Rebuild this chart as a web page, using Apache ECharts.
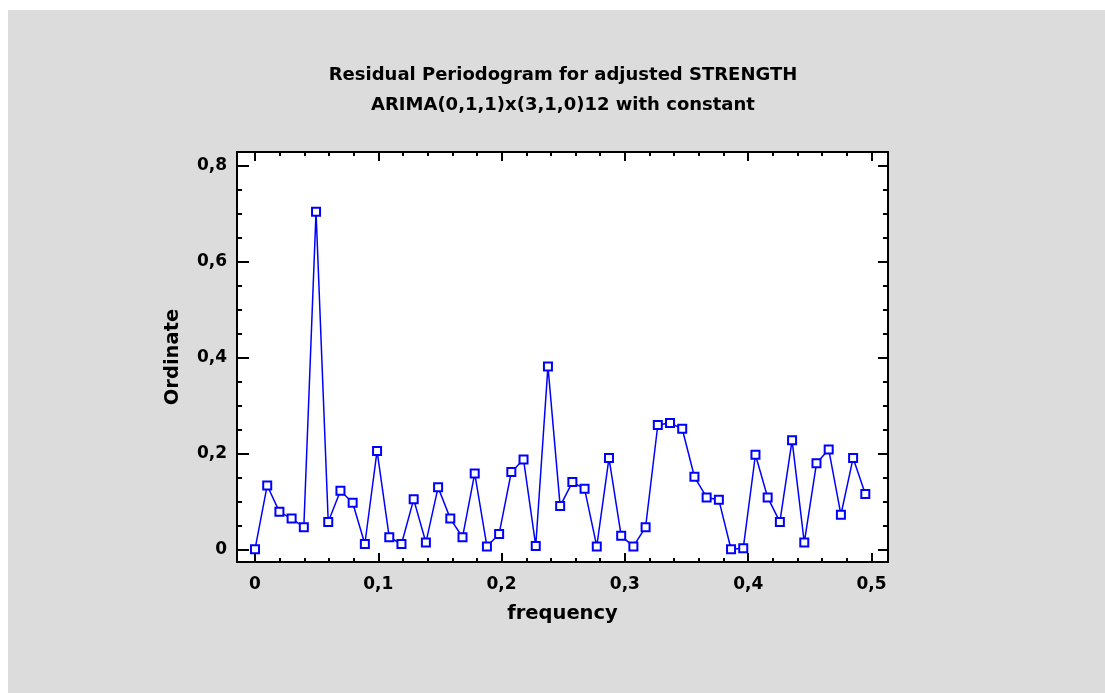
<!DOCTYPE html>
<html>
<head>
<meta charset="utf-8">
<script src="https://cdn.jsdelivr.net/npm/echarts@6/dist/echarts.min.js"></script>
<style>
  html, body { margin: 0; padding: 0; background: #ffffff; }
  #bg { position: absolute; left: 8px; top: 10px; width: 1097px; height: 683px; background: #dcdcdc; }
  #chart { position: absolute; left: 0; top: 0; width: 1105px; height: 693px; }
</style>
</head>
<body>
<div id="bg"></div>
<div id="chart"></div>
<script>
// ---- data ----
const frequency = [
  0.0000, 0.0099, 0.0198, 0.0297, 0.0396, 0.0495, 0.0594, 0.0693, 0.0792, 0.0891,
  0.0990, 0.1089, 0.1188, 0.1287, 0.1386, 0.1485, 0.1584, 0.1683, 0.1782, 0.1881,
  0.1980, 0.2079, 0.2178, 0.2277, 0.2376, 0.2475, 0.2574, 0.2673, 0.2772, 0.2871,
  0.2970, 0.3069, 0.3168, 0.3267, 0.3366, 0.3465, 0.3564, 0.3663, 0.3762, 0.3861,
  0.3960, 0.4059, 0.4158, 0.4257, 0.4356, 0.4455, 0.4554, 0.4653, 0.4752, 0.4851,
  0.4950
];
const ordinate = [
  0.000, 0.133, 0.078, 0.064, 0.046, 0.703, 0.057, 0.122, 0.097, 0.011,
  0.205, 0.025, 0.011, 0.104, 0.014, 0.129, 0.064, 0.025, 0.158, 0.006,
  0.032, 0.161, 0.187, 0.007, 0.381, 0.090, 0.140, 0.126, 0.006, 0.190,
  0.028, 0.006, 0.046, 0.259, 0.263, 0.251, 0.151, 0.108, 0.103, 0.000,
  0.002, 0.197, 0.108, 0.057, 0.227, 0.014, 0.179, 0.208, 0.072, 0.190,
  0.115
];
const xMajorTicks = [0, 0.1, 0.2, 0.3, 0.4, 0.5];
const xMinorTicks = [0.02, 0.04, 0.06, 0.08, 0.12, 0.14, 0.16, 0.18, 0.22, 0.24, 0.26, 0.28,
                     0.32, 0.34, 0.36, 0.38, 0.42, 0.44, 0.46, 0.48];
const yMajorTicks = [0, 0.2, 0.4, 0.6, 0.8];
const yMinorTicks = [0.05, 0.1, 0.15, 0.25, 0.3, 0.35, 0.45, 0.5, 0.55, 0.65, 0.7, 0.75];
const titleLines = ['Residual Periodogram for adjusted STRENGTH', 'ARIMA(0,1,1)x(3,1,0)12 with constant'];
const xName = 'frequency';
const yName = 'Ordinate';

// ---- chart ----
const FONT = 'DejaVu Sans';
const X_MIN = -0.0146, X_MAX = 0.5134;
const Y_MIN = -0.0265, Y_MAX = 0.8277;
const fmt = v => String(Math.round(v * 10) / 10).replace('.', ',');
const tickLine = { color: '#000', width: 2 };

function xAxisDef(pos, ticks, len, withLabels) {
  return {
    type: 'value', position: pos, min: X_MIN, max: X_MAX, gridIndex: 0,
    axisLine: { show: false, onZero: false },
    splitLine: { show: false },
    axisTick: { show: true, inside: true, length: len, lineStyle: tickLine, customValues: ticks },
    axisLabel: withLabels ? {
      show: true, customValues: ticks, formatter: fmt, margin: 14,
      color: '#000', fontFamily: FONT, fontWeight: 'bold', fontSize: 17
    } : { show: false },
    name: withLabels ? xName : '',
    nameLocation: 'middle', nameGap: 42,
    nameTextStyle: { color: '#000', fontFamily: FONT, fontWeight: 'bold', fontSize: 19.5 }
  };
}
function yAxisDef(pos, ticks, len, withLabels) {
  return {
    type: 'value', position: pos, min: Y_MIN, max: Y_MAX, gridIndex: 0,
    axisLine: { show: false, onZero: false },
    splitLine: { show: false },
    axisTick: { show: true, inside: true, length: len, lineStyle: tickLine, customValues: ticks },
    axisLabel: withLabels ? {
      show: true, customValues: ticks, formatter: fmt, margin: 10,
      color: '#000', fontFamily: FONT, fontWeight: 'bold', fontSize: 17,
      padding: [4, 0, 0, 0]
    } : { show: false },
    name: withLabels ? yName : '',
    nameLocation: 'middle', nameGap: 54,
    nameTextStyle: { color: '#000', fontFamily: FONT, fontWeight: 'bold', fontSize: 19.5 }
  };
}

const chart = echarts.init(document.getElementById('chart'), null, { renderer: 'canvas' });
chart.setOption({
  backgroundColor: 'transparent',
  animation: false,
  title: {
    text: titleLines.join('\n'),
    left: 563, top: 60, padding: 0, textAlign: 'center',
    textStyle: { color: '#000', fontFamily: FONT, fontWeight: 'bold', fontSize: 18, lineHeight: 30 }
  },
  grid: {
    left: 237, top: 152, width: 651, height: 410,
    show: true, backgroundColor: '#ffffff', borderColor: '#000', borderWidth: 2
  },
  xAxis: [
    xAxisDef('bottom', xMajorTicks, 9, true),
    xAxisDef('bottom', xMinorTicks, 4, false),
    xAxisDef('top', xMajorTicks, 9, false),
    xAxisDef('top', xMinorTicks, 4, false)
  ],
  yAxis: [
    yAxisDef('left', yMajorTicks, 12, true),
    yAxisDef('left', yMinorTicks, 5, false),
    yAxisDef('right', yMajorTicks, 10, false),
    yAxisDef('right', yMinorTicks, 5, false)
  ],
  series: [{
    type: 'line',
    xAxisIndex: 0, yAxisIndex: 0,
    data: frequency.map((f, i) => [f, ordinate[i]]),
    symbol: 'emptyRect', symbolSize: 8,
    lineStyle: { color: '#0000ff', width: 1.5 },
    itemStyle: { color: '#0000ff', borderColor: '#0000ff', borderWidth: 1.8 },
    emphasis: { disabled: true }
  }]
});
</script>
</body>
</html>
